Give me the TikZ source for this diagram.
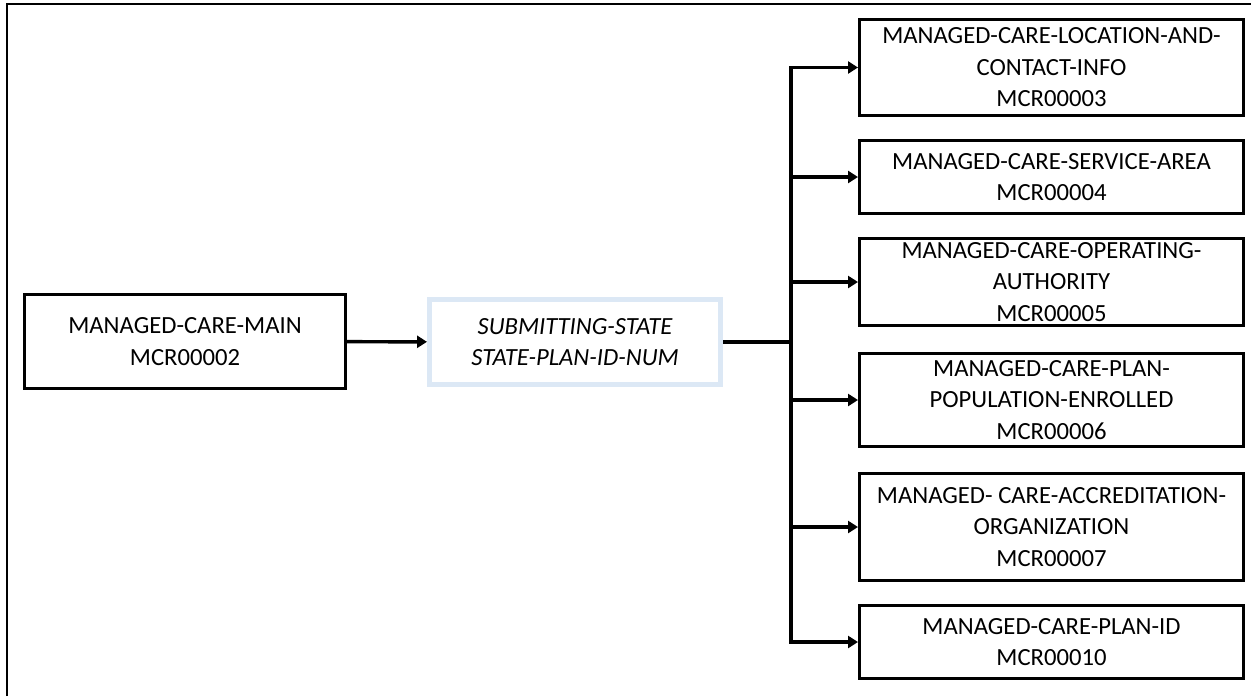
\documentclass[tikz,border=0pt]{standalone}
\usepackage{fontspec}
\setmainfont{Carlito}
\usetikzlibrary{arrows.meta}
\definecolor{keyblue}{RGB}{220,232,245}
\newcommand{\boxfont}{\fontsize{18.5}{23.6}\selectfont}
\tikzset{
  recbox/.style={draw=black, line width=2.6pt, align=center, inner sep=0pt, font=\boxfont},
  keybox/.style={draw=keyblue, line width=3.8pt, align=center, inner sep=0pt, font=\boxfont\itshape},
  arr/.style={line width=2.6pt, -{Triangle[length=7.5pt,width=9pt]}},
}
\begin{document}
\begin{tikzpicture}[x=0.75pt, y=-0.75pt]
\useasboundingbox (0,0) rectangle (1251,696);
\draw[line width=1.8pt] (7,696) -- (7,4) -- (1251,4);

\node[recbox, minimum width=240.4pt, minimum height=70.15pt] (main) at (185,341.5) {MANAGED-CARE-MAIN\\MCR00002};
\node[keybox, minimum width=218.2pt, minimum height=63.7pt] (key) at (575,342) {SUBMITTING-STATE\\STATE-PLAN-ID-NUM};

\node[recbox, minimum width=287.65pt, minimum height=71.65pt] (loc) at (1051.5,67.5) {MANAGED-CARE-LOCATION-AND-\\CONTACT-INFO\\MCR00003};
\node[recbox, minimum width=287.65pt, minimum height=54.4pt] (area) at (1051.5,177) {MANAGED-CARE-SERVICE-AREA\\MCR00004};
\node[recbox, minimum width=287.65pt, minimum height=64.9pt] (auth) at (1051.5,282) {MANAGED-CARE-OPERATING-\\AUTHORITY\\MCR00005};
\node[recbox, minimum width=287.65pt, minimum height=69.4pt] (pop) at (1051.5,400) {MANAGED-CARE-PLAN-\\POPULATION-ENROLLED\\MCR00006};
\node[recbox, minimum width=287.65pt, minimum height=79.9pt] (accr) at (1051.5,527) {MANAGED- CARE-ACCREDITATION-\\ORGANIZATION\\MCR00007};
\node[recbox, minimum width=287.65pt, minimum height=54.4pt] (plan) at (1051.5,642) {MANAGED-CARE-PLAN-ID\\MCR00010};

\coordinate (split) at (791,342);

\draw[arr] (main) -- (key);
\draw[line width=2.6pt] (key.east) -- (split);
\draw[arr] (split) |- (loc.west);
\draw[arr] (split) |- (area.west);
\draw[arr] (split) |- (auth.west);
\draw[arr] (split) |- (pop.west);
\draw[arr] (split) |- (accr.west);
\draw[arr] (split) |- (plan.west);
\end{tikzpicture}
\end{document}
